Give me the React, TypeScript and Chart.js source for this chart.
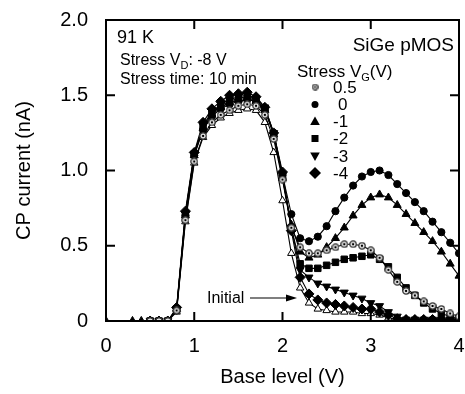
import React, { useEffect, useRef } from "react";
import { Chart, registerables } from "chart.js";
Chart.register(...registerables);

const baseLevel = [0, 0.3, 0.4, 0.5, 0.6, 0.7, 0.8, 0.9, 1.0, 1.1, 1.2, 1.3, 1.4, 1.5, 1.6, 1.7, 1.8, 1.9, 2.0, 2.1, 2.2, 2.3, 2.4, 2.5, 2.6, 2.7, 2.8, 2.9, 3.0, 3.1, 3.2, 3.3, 3.4, 3.5, 3.6, 3.7, 3.8, 3.9, 4.0];

const initialI = [null, null, null, 0, 0, 0, 0.06, 0.66, 1.05, 1.22, 1.30, 1.35, 1.38, 1.40, 1.41, 1.40, 1.32, 1.12, 0.80, 0.45, 0.22, 0.12, 0.08, 0.07, 0.06, 0.06, 0.06, 0.05, 0.05, 0.04, 0.02, 0.01, 0.01, 0.01, 0.01, 0.01, 0.01, 0.01, 0.01];
const vg05 = [null, null, null, 0, 0, 0, 0.07, 0.67, 1.06, 1.23, 1.32, 1.37, 1.40, 1.43, 1.44, 1.43, 1.37, 1.21, 0.94, 0.62, 0.49, 0.45, 0.45, 0.47, 0.49, 0.51, 0.51, 0.50, 0.47, 0.42, 0.34, 0.26, 0.20, 0.17, 0.13, 0.10, 0.08, 0.05, 0.03];
const vg0 = [null, null, null, 0, 0, 0, 0.07, 0.70, 1.10, 1.27, 1.36, 1.41, 1.44, 1.46, 1.47, 1.46, 1.40, 1.25, 0.97, 0.71, 0.55, 0.53, 0.56, 0.63, 0.73, 0.82, 0.90, 0.96, 0.99, 1.00, 0.97, 0.91, 0.85, 0.79, 0.73, 0.66, 0.59, 0.52, 0.45];
const vgm1 = [0, 0, 0, 0, 0, 0, 0.08, 0.70, 1.10, 1.28, 1.37, 1.42, 1.45, 1.47, 1.48, 1.46, 1.40, 1.24, 0.95, 0.64, 0.46, 0.42, 0.44, 0.49, 0.55, 0.62, 0.70, 0.77, 0.82, 0.84, 0.82, 0.77, 0.71, 0.65, 0.59, 0.53, 0.46, 0.38, 0.30];
const vgm2 = [null, null, null, 0, 0, 0, 0.08, 0.71, 1.11, 1.29, 1.38, 1.43, 1.46, 1.48, 1.49, 1.47, 1.41, 1.24, 0.96, 0.62, 0.38, 0.35, 0.35, 0.37, 0.39, 0.41, 0.42, 0.43, 0.44, 0.41, 0.36, 0.29, 0.22, 0.17, 0.12, 0.08, 0.05, 0.03, 0.02];
const vgm3 = [null, null, null, 0, 0, 0, 0.08, 0.71, 1.11, 1.30, 1.39, 1.44, 1.47, 1.49, 1.50, 1.48, 1.42, 1.25, 0.97, 0.62, 0.34, 0.29, 0.25, 0.23, 0.21, 0.19, 0.17, 0.15, 0.12, 0.10, 0.06, 0.03, 0.01, 0.01, 0.01, 0.01, 0.01, 0.01, 0.01];
const vgm4 = [null, null, null, 0, 0, 0, 0.09, 0.73, 1.12, 1.32, 1.41, 1.46, 1.50, 1.51, 1.52, 1.49, 1.42, 1.25, 0.99, 0.60, 0.29, 0.18, 0.14, 0.12, 0.11, 0.10, 0.09, 0.08, 0.08, 0.06, 0.04, 0.015, 0.01, 0.01, 0.01, 0.01, 0.01, 0.01, 0.01];

const legendLabels = ["0.5", "0", "-1", "-2", "-3", "-4"];
const xTicks = [0, 1, 2, 3, 4];
const yTicks = [0, 0.5, 1.0, 1.5, 2.0];

const FONT = "'Liberation Sans', Arial, sans-serif";

function makeBullseye(size: number) {
  const c = document.createElement("canvas");
  c.width = size;
  c.height = size;
  const g = c.getContext("2d")!;
  const m = size / 2;
  g.beginPath();
  g.arc(m, m, m - 0.8, 0, Math.PI * 2);
  g.fillStyle = "#fff";
  g.fill();
  g.lineWidth = 1.3;
  g.strokeStyle = "#333";
  g.stroke();
  g.beginPath();
  g.arc(m, m, size * 0.16, 0, Math.PI * 2);
  g.fillStyle = "#000";
  g.fill();
  return c;
}

function toPts(vals: (number | null)[]) {
  return baseLevel.map((x, i) => ({ x, y: vals[i] as any }));
}

function drawMarker(ctx: CanvasRenderingContext2D, kind: string, x: number, y: number, img?: HTMLCanvasElement) {
  ctx.save();
  ctx.fillStyle = "#000";
  ctx.beginPath();
  if (kind === "bull" && img) {
    ctx.drawImage(img, x - img.width / 2, y - img.height / 2);
  } else if (kind === "circle") {
    ctx.arc(x, y, 3.5, 0, Math.PI * 2);
    ctx.fill();
  } else if (kind === "tri") {
    ctx.moveTo(x, y - 5);
    ctx.lineTo(x + 4.8, y + 3.5);
    ctx.lineTo(x - 4.8, y + 3.5);
    ctx.closePath();
    ctx.fill();
  } else if (kind === "sq") {
    ctx.fillRect(x - 3.5, y - 3.5, 7, 7);
  } else if (kind === "tridown") {
    ctx.moveTo(x, y + 5);
    ctx.lineTo(x + 4.8, y - 3.5);
    ctx.lineTo(x - 4.8, y - 3.5);
    ctx.closePath();
    ctx.fill();
  } else if (kind === "diamond") {
    ctx.moveTo(x, y - 6);
    ctx.lineTo(x + 6, y);
    ctx.lineTo(x, y + 6);
    ctx.lineTo(x - 6, y);
    ctx.closePath();
    ctx.fill();
  }
  ctx.restore();
}

function zeroPad(s: any) {
  s.paddingLeft = 0;
  s.paddingRight = 0;
  s.paddingTop = 0;
  s.paddingBottom = 0;
}

export default function App() {
  const ref = useRef<HTMLCanvasElement>(null);
  useEffect(() => {
    const canvas = ref.current!;
    const bull = makeBullseye(8);
    const bullLegend = makeBullseye(7);

    const annot = {
      id: "annot",
      afterDraw(chart: any) {
        const ctx: CanvasRenderingContext2D = chart.ctx;
        const { left, right, top, bottom } = chart.chartArea;
        const xs = chart.scales.x;
        const ys = chart.scales.y;
        ctx.save();
        ctx.strokeStyle = "#000";
        ctx.lineWidth = 2;
        ctx.strokeRect(left, top, right - left, bottom - top);
        const tl = 9;
        ctx.beginPath();
        xTicks.slice(1, -1).forEach((v) => {
          const px = xs.getPixelForValue(v);
          ctx.moveTo(px, bottom);
          ctx.lineTo(px, bottom - tl);
          ctx.moveTo(px, top);
          ctx.lineTo(px, top + tl);
        });
        yTicks.slice(1, -1).forEach((v) => {
          const py = ys.getPixelForValue(v);
          ctx.moveTo(left, py);
          ctx.lineTo(left + tl, py);
          ctx.moveTo(right, py);
          ctx.lineTo(right - tl, py);
        });
        ctx.stroke();

        ctx.fillStyle = "#000";
        ctx.textBaseline = "alphabetic";
        ctx.textAlign = "left";
        ctx.font = `18px ${FONT}`;
        ctx.fillText("91 K", 117, 43);

        ctx.font = `16px ${FONT}`;
        let x = 120;
        ctx.fillText("Stress V", x, 65);
        x += ctx.measureText("Stress V").width;
        ctx.font = `11px ${FONT}`;
        ctx.fillText("D", x, 69);
        x += ctx.measureText("D").width;
        ctx.font = `16px ${FONT}`;
        ctx.fillText(": -8 V", x, 65);
        ctx.fillText("Stress time: 10 min", 120, 84);

        ctx.font = `19px ${FONT}`;
        ctx.textAlign = "right";
        ctx.fillText("SiGe pMOS", 454, 51);
        ctx.textAlign = "left";

        ctx.font = `17px ${FONT}`;
        x = 297;
        ctx.fillText("Stress V", x, 77);
        x += ctx.measureText("Stress V").width;
        ctx.font = `11px ${FONT}`;
        ctx.fillText("G", x, 81);
        x += ctx.measureText("G").width;
        ctx.font = `17px ${FONT}`;
        ctx.fillText("(V)", x, 77);

        const kinds = ["bull", "circle", "tri", "sq", "tridown", "diamond"];
        const rowY = [87, 104.5, 121.5, 138.5, 156, 173];
        kinds.forEach((k, i) => {
          drawMarker(ctx, k, 315, rowY[i], bullLegend);
          ctx.fillStyle = "#000";
          ctx.font = `17px ${FONT}`;
          ctx.textBaseline = "middle";
          const lx = legendLabels[i] === "0" ? 338 : 333;
          ctx.fillText(legendLabels[i], lx, rowY[i] + 1);
        });

        ctx.textBaseline = "alphabetic";
        ctx.font = `16px ${FONT}`;
        ctx.fillText("Initial", 207, 303);
        ctx.lineWidth = 1.2;
        ctx.beginPath();
        ctx.moveTo(250, 298);
        ctx.lineTo(288, 298);
        ctx.stroke();
        ctx.beginPath();
        ctx.moveTo(297, 298);
        ctx.lineTo(286, 294.5);
        ctx.lineTo(286, 301.5);
        ctx.closePath();
        ctx.fill();
        ctx.restore();
      },
    };

    const common = {
      borderColor: "#000",
      borderWidth: 1.1,
      pointBorderColor: "#000",
      pointBorderWidth: 1,
      showLine: true,
      spanGaps: false,
      tension: 0,
    };

    const chart = new Chart(canvas, {
      type: "scatter",
      data: {
        datasets: [
          { ...common, label: "0.5", data: toPts(vg05), pointStyle: bull as any, pointRadius: 4, pointBackgroundColor: "#fff", pointBorderWidth: 0 },
          { ...common, label: "0", data: toPts(vg0), pointStyle: "circle", pointRadius: 3.6, pointBackgroundColor: "#000" },
          { ...common, label: "-1", data: toPts(vgm1), pointStyle: "triangle", pointRadius: 4.6, pointBackgroundColor: "#000" },
          { ...common, label: "-2", data: toPts(vgm2), pointStyle: "rect", pointRadius: 4.6, pointBackgroundColor: "#000" },
          { ...common, label: "-3", data: toPts(vgm3), pointStyle: "triangle", rotation: 180, pointRadius: 4.6, pointBackgroundColor: "#000" },
          { ...common, label: "-4", data: toPts(vgm4), pointStyle: "rectRot", pointRadius: 5, pointBackgroundColor: "#000" },
          { ...common, label: "Initial", data: toPts(initialI), pointStyle: "triangle", pointRadius: 4.3, pointBackgroundColor: "#fff" },
        ] as any,
      },
      options: {
        animation: false,
        responsive: false,
        maintainAspectRatio: false,
        layout: { padding: { top: 20, right: 5, left: 0, bottom: 0 } },
        plugins: { legend: { display: false }, tooltip: { enabled: false } },
        scales: {
          x: {
            type: "linear",
            min: 0,
            max: 4,
            afterBuildTicks: (s: any) => { s.ticks = xTicks.map((v) => ({ value: v })); },
            ticks: { color: "#000", font: { family: FONT, size: 20 }, padding: 13, maxRotation: 0, callback: (v: any) => String(v) },
            grid: { display: false, drawTicks: false },
            border: { display: false },
            title: { display: true, text: "Base level (V)", color: "#000", font: { family: FONT, size: 20 }, padding: { top: 0, bottom: 5 } },
            afterFit: (s: any) => { s.height = 73; zeroPad(s); },
          },
          y: {
            type: "linear",
            min: 0,
            max: 2,
            afterBuildTicks: (s: any) => { s.ticks = yTicks.map((v) => ({ value: v })); },
            ticks: { color: "#000", font: { family: FONT, size: 20 }, padding: 18, callback: (v: any) => (v === 0 ? "0" : Number(v).toFixed(1)) },
            grid: { display: false, drawTicks: false },
            border: { display: false },
            title: { display: true, text: "CP current (nA)", color: "#000", font: { family: FONT, size: 20 }, padding: { top: 12, bottom: 0 } },
            afterFit: (s: any) => { s.width = 106; zeroPad(s); },
          },
        },
      } as any,
      plugins: [annot],
    });
    return () => chart.destroy();
  }, []);

  return (
    <div style={{ position: "absolute", left: 0, top: 0, width: 465, height: 394, background: "#fff" }}>
      <canvas ref={ref} width={465} height={394} style={{ width: 465, height: 394, display: "block" }} />
    </div>
  );
}
